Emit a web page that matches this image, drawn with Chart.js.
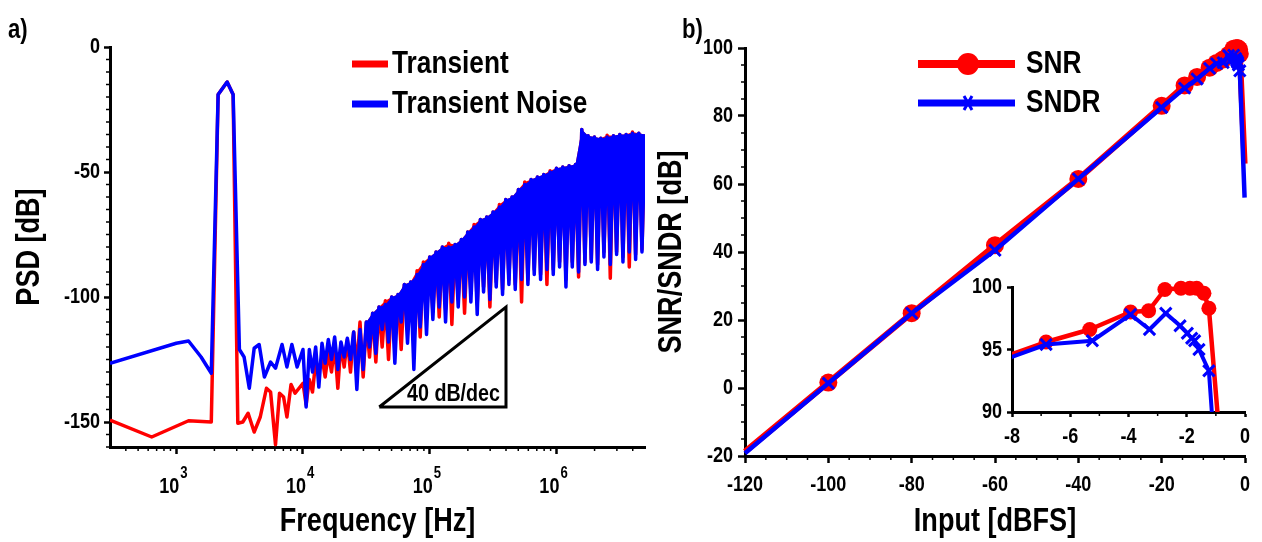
<!DOCTYPE html>
<html>
<head>
<meta charset="utf-8">
<title>PSD and SNR/SNDR</title>
<script src="https://cdn.jsdelivr.net/npm/chart.js@4.4.1/dist/chart.umd.min.js"></script>
<style>
  html, body { margin: 0; padding: 0; background: #fff; }
  body { position: relative; width: 1262px; height: 542px; overflow: hidden; }
  canvas { position: absolute; }
</style>
</head>
<body>
<canvas id="psd" width="660" height="542" style="left:0;top:0"></canvas>
<canvas id="snr" width="622" height="542" style="left:640px;top:0"></canvas>
<canvas id="inset" width="322" height="185" style="left:940px;top:270px"></canvas>
<script>
// ---------- a) PSD data ----------
const psdDecades = [1e3, 1e4, 1e5, 1e6];
const psdYTicks = [0, -50, -100, -150];

// below 10 kHz, read trace by trace
const tranFreqLo = [300, 640, 1250, 1890, 2140, 2520, 2810, 3060, 3350, 3690, 4120, 4600, 5150, 5550, 6070, 6530, 7030, 7470, 8050, 8660];
const tranPsdLo = [-149.2, -156, -149.5, -150, -19, -14, -19, -150.5, -150, -146.5, -154, -148, -136.5, -138, -159, -138.5, -140, -148, -135, -138.5];
const noiseFreqLo = [300, 1000, 1250, 1570, 1890, 2140, 2520, 2810, 3150, 3430, 3770, 4120, 4510, 4960, 5550, 6070, 6840, 7470, 8170, 8990];
const noisePsdLo = [-126.5, -118.5, -117.6, -124, -130.5, -19, -14, -19, -121, -124, -136.5, -120.5, -119, -132, -126, -128.5, -119, -128, -119, -128];

// above 10 kHz the spectrum is a dense comb: peaks (even) and dips (odd) read on a shared grid
const denseFreq = [
  10000, 10590, 11220, 11890, 12590, 13340, 14130, 14960, 15850, 16790,
  17780, 18840, 19950, 21130, 22390, 23710, 25120, 26610, 28180, 29850,
  31620, 33500, 35480, 37580, 39810, 42170, 44670, 47320, 50120, 53090,
  56230, 59570, 63100, 66830, 70790, 74990, 79430, 84140, 89130, 94410,
  100000, 105900, 112200, 118900, 125900, 133400, 141300, 149600, 158500, 167900,
  177800, 188400, 199500, 211300, 223900, 237100, 251200, 266100, 281800, 298500,
  316200, 335000, 354800, 375800, 398100, 421700, 446700, 473200, 501200, 530900,
  562300, 595700, 631000, 668300, 707900, 749900, 794300, 841400, 891300, 944100,
  1000000, 1059000, 1122000, 1189000, 1259000, 1334000, 1413000, 1496000, 1585000, 1679000,
  1778000, 1884000, 1995000, 2113000, 2239000, 2371000, 2512000, 2661000, 2818000, 2985000,
  3162000, 3350000, 3548000, 3758000, 3981000, 4217000, 4467000, 4732000, 5000000];
const noiseDense = [
  -121, -144, -121, -130, -120, -136, -118.5, -126.5, -117, -125,
  -116, -129, -118, -124, -116.5, -125, -114, -137, -113, -129,
  -110, -120, -106.5, -122.5, -104, -113, -103, -118, -100, -126.5,
  -99, -110, -95, -118.5, -94, -129, -91, -112, -87, -115,
  -84, -109, -82, -104, -80, -110, -80, -102, -79, -104,
  -77, -100, -74, -102, -72, -107, -69, -98, -68, -101,
  -66, -96, -64, -99, -61, -95, -60, -97, -57, -93,
  -55, -95, -53, -91, -52, -93, -51, -89, -50, -91,
  -48.5, -88, -48, -96, -47.5, -88, -47, -90, -33, -87,
  -35.5, -86, -36, -89, -36.5, -84, -36, -87, -35.5, -83,
  -35, -86, -35, -82, -34.5, -85, -34.5, -82, -35];
const tranDense = [
  -134.5, -143, -133, -138, -126, -130, -124, -132, -122.5, -130,
  -119, -136.5, -118.5, -128, -117, -130, -114, -128, -110, -132,
  -110, -124, -106.5, -126, -104, -120, -101.5, -125, -100, -118,
  -99, -121, -95, -112, -94, -119, -89.5, -116, -86, -108,
  -84, -106, -82, -108, -80, -105, -78.5, -111, -79, -101,
  -77, -106.5, -74, -98, -71, -103, -69, -96, -68, -104,
  -66, -94, -63, -97, -61, -93, -60, -95, -57, -102,
  -54, -93, -53, -89, -52, -91, -51, -95, -49.5, -89,
  -48.5, -86, -48, -93, -47.5, -86, -47, -92, -33, -86,
  -35.5, -85, -36, -87, -36.5, -82, -35.3, -92.5, -35.5, -82,
  -35, -84, -35, -88, -34, -83, -34.5, -81, -35];

// 40 dB/dec guide triangle
const slopeFreq = [4e4, 4e5, 4e5, 4e4];
const slopeDb = [-144, -104, -144, -144];

// ---------- b) SNR / SNDR data ----------
const snrInput = [-120, -100, -80, -60, -40, -20, -14.5, -11.5, -8.5, -6.83, -5.33, -3.93, -3.31, -2.75, -2.2, -1.89, -1.66, -1.41, -1.24, -0.1];
const snrDb = [-18.7, 1.6, 22, 42, 61.5, 83, 89, 91.5, 94.2, 95.6, 96.6, 98.0, 98.1, 99.8, 99.9, 99.9, 99.9, 99.5, 98.3, 66];
const sndrInput = [-120, -100, -80, -60, -40, -20, -14.5, -11.5, -8.5, -6.83, -5.24, -3.93, -3.28, -2.72, -2.23, -1.98, -1.83, -1.73, -1.58, -1.24, -0.1];
const sndrDb = [-19.2, 1.4, 22, 40.5, 61.5, 82.5, 88.2, 90.9, 94.0, 95.4, 95.7, 97.8, 96.6, 97.9, 96.9, 96.3, 95.9, 95.7, 95.0, 93.3, 56];

// ---------- common setup ----------
const FONT = "'Liberation Sans', Arial, sans-serif";
const NARROW = 0.82; // the original uses a condensed face
const RED = '#ff0000';
const BLUE = '#0000ff';
Chart.defaults.font.family = FONT;
Chart.defaults.font.weight = 'bold';
Chart.defaults.font.size = 22;
Chart.defaults.color = '#000';
Chart.defaults.animation = false;
Chart.defaults.plugins.legend.display = false;
Chart.defaults.plugins.tooltip.enabled = false;

const toXY = (xs, ys) => xs.map((x, i) => ({ x, y: ys[i] }));

function text(ctx, str, x, y, size, align = 'left', rot = 0, baseline = 'middle') {
  ctx.save();
  ctx.translate(x, y);
  if (rot) ctx.rotate(rot);
  ctx.scale(NARROW, 1);
  ctx.font = `bold ${size}px ${FONT}`;
  ctx.fillStyle = '#000';
  ctx.textAlign = align;
  ctx.textBaseline = baseline;
  ctx.fillText(str, 0, 0);
  ctx.restore();
}

// small unlabelled ticks outside the axes
function minorTicks(xVals, yVals, len) {
  return {
    id: 'minorTicks',
    afterDraw(chart) {
      const { ctx } = chart;
      const xs = chart.scales.x, ys = chart.scales.y;
      ctx.save();
      ctx.strokeStyle = '#000';
      ctx.lineWidth = 1.5;
      xVals.forEach(v => {
        const p = xs.getPixelForValue(v);
        ctx.beginPath(); ctx.moveTo(p, xs.top); ctx.lineTo(p, xs.top + len); ctx.stroke();
      });
      yVals.forEach(v => {
        const p = ys.getPixelForValue(v);
        ctx.beginPath(); ctx.moveTo(ys.right, p); ctx.lineTo(ys.right - len, p); ctx.stroke();
      });
      ctx.restore();
    }
  };
}

// tick labels of the scales, drawn in the condensed style
function tickLabels(xOff, yOff, size) {
  return {
    id: 'tickLabels',
    afterDraw(chart) {
      const { ctx } = chart;
      const xs = chart.scales.x, ys = chart.scales.y;
      if (xOff !== null) xs.ticks.forEach(t =>
        text(ctx, String(t.value), xs.getPixelForValue(t.value), xs.top + xOff, size, 'center'));
      if (yOff !== null) ys.ticks.forEach(t =>
        text(ctx, String(t.value), ys.right - yOff, ys.getPixelForValue(t.value), size, 'right'));
    }
  };
}

function axis(extra, tickLen = 7) {
  return Object.assign({
    border: { display: true, width: 3, color: '#000' },
    grid: { drawOnChartArea: false, drawTicks: true, tickLength: tickLen, tickWidth: 2.5, tickColor: '#000' },
  }, extra);
}

function range(a, b, step) {
  const out = [];
  for (let v = a; v <= b + 1e-9; v += step) out.push(+v.toFixed(6));
  return out;
}

// ---------- a) PSD chart ----------
const psdMinorX = [100, 1e3, 1e4, 1e5, 1e6]
  .flatMap(d => [2, 3, 4, 5, 6, 7, 8, 9].map(m => m * d))
  .filter(v => v > 300 && v < 5e6);
const psdMinorY = range(-160, 0, 5).filter(v => v % 50 !== 0);

// the comb above ~30 kHz is solid: fill between its peaks and its dips
const bandStart = 20;
const peaksOf = arr => arr.filter((v, i) => i >= bandStart && i % 2 === 0);
const bandOf = arr => arr.slice(bandStart);

const psdDecor = {
  id: 'psdDecor',
  afterDraw(chart) {
    const { ctx } = chart;
    const xs = chart.scales.x, ys = chart.scales.y;
    const area = chart.chartArea;
    text(ctx, 'a)', 8, 31, 27);
    text(ctx, 'PSD [dB]', 30, (area.top + area.bottom) / 2, 33, 'center', -Math.PI / 2);
    text(ctx, 'Frequency [Hz]', (area.left + area.right) / 2, 522, 33, 'center');
    psdYTicks.forEach(v => text(ctx, String(v), ys.right - 10, ys.getPixelForValue(v), 22, 'right'));
    // decade labels 10^n
    psdDecades.forEach(v => {
      const p = xs.getPixelForValue(v);
      text(ctx, '10', p + 3, 493, 22, 'right', 0, 'alphabetic');
      text(ctx, String(Math.round(Math.log10(v))), p + 4, 478, 16, 'left', 0, 'alphabetic');
    });
    // legend
    const rows = [[chart.data.datasets[0], 64], [chart.data.datasets[3], 104]];
    rows.forEach(([ds, y]) => {
      ctx.save();
      ctx.strokeStyle = ds.borderColor;
      ctx.lineWidth = 7;
      ctx.beginPath(); ctx.moveTo(352, y); ctx.lineTo(388, y); ctx.stroke();
      ctx.restore();
      text(ctx, ds.label, 392, y, 32);
    });
    // slope annotation
    text(ctx, '40 dB/dec', xs.getPixelForValue(slopeFreq[1]) - 6, ys.getPixelForValue(-139), 24, 'right');
  }
};

new Chart(document.getElementById('psd'), {
  type: 'line',
  data: {
    datasets: [
      { label: 'Transient', data: toXY(tranFreqLo.concat(denseFreq), tranPsdLo.concat(tranDense)),
        borderColor: RED, borderWidth: 3.5, pointRadius: 0, order: 2 },
      { label: 'Transient peaks', data: toXY(peaksOf(denseFreq), peaksOf(tranDense)),
        borderColor: RED, borderWidth: 0, pointRadius: 0, order: 2 },
      { label: 'Transient band', data: toXY(bandOf(denseFreq), bandOf(tranDense)),
        borderColor: RED, backgroundColor: RED, borderWidth: 0, pointRadius: 0, order: 2, fill: 1 },
      { label: 'Transient Noise', data: toXY(noiseFreqLo.concat(denseFreq), noisePsdLo.concat(noiseDense)),
        borderColor: BLUE, borderWidth: 3.5, pointRadius: 0, order: 1 },
      { label: 'Noise peaks', data: toXY(peaksOf(denseFreq), peaksOf(noiseDense)),
        borderColor: BLUE, borderWidth: 0, pointRadius: 0, order: 1 },
      { label: 'Noise band', data: toXY(bandOf(denseFreq), bandOf(noiseDense)),
        borderColor: BLUE, backgroundColor: BLUE, borderWidth: 0, pointRadius: 0, order: 1, fill: 4 },
      { label: 'slope', data: toXY(slopeFreq, slopeDb), borderColor: '#000', borderWidth: 3,
        pointRadius: 0, order: 0, borderJoinStyle: 'miter' }
    ]
  },
  options: {
    responsive: false,
    layout: { padding: { top: 47, right: 15, left: 0, bottom: 0 } },
    elements: { line: { tension: 0, borderJoinStyle: 'round', fill: false } },
    scales: {
      x: axis({
        type: 'logarithmic', min: 300, max: 5e6,
        afterBuildTicks: s => { s.ticks = psdDecades.map(v => ({ value: v })); },
        afterFit: s => { s.height = 95; },
        ticks: { display: false }
      }),
      y: axis({
        type: 'linear', min: -160, max: 0,
        afterBuildTicks: s => { s.ticks = psdYTicks.map(v => ({ value: v })); },
        afterFit: s => { s.width = 110; },
        ticks: { display: false }
      }, 6)
    }
  },
  plugins: [minorTicks(psdMinorX, psdMinorY, 4), psdDecor]
});

// ---------- b) SNR / SNDR chart ----------
const snrDecor = {
  id: 'snrDecor',
  afterDraw(chart) {
    const { ctx } = chart;
    const area = chart.chartArea;
    text(ctx, 'b)', 42, 31, 27);
    text(ctx, 'SNR/SNDR [dB]', 32, (area.top + area.bottom) / 2, 33, 'center', -Math.PI / 2);
    text(ctx, 'Input [dBFS]', (area.left + area.right) / 2, 522, 33, 'center');
    const [snr, sndr] = chart.data.datasets;
    ctx.save();
    ctx.lineWidth = 8;
    ctx.strokeStyle = snr.borderColor;
    ctx.beginPath(); ctx.moveTo(278, 64); ctx.lineTo(375, 64); ctx.stroke();
    ctx.fillStyle = snr.borderColor;
    ctx.beginPath(); ctx.arc(328, 64, 11, 0, Math.PI * 2); ctx.fill();
    ctx.lineWidth = 7;
    ctx.strokeStyle = sndr.borderColor;
    ctx.beginPath(); ctx.moveTo(278, 103); ctx.lineTo(375, 103); ctx.stroke();
    ctx.lineWidth = 3;
    ctx.beginPath();
    ctx.moveTo(324, 96); ctx.lineTo(332, 110);
    ctx.moveTo(332, 96); ctx.lineTo(324, 110);
    ctx.stroke();
    ctx.restore();
    text(ctx, snr.label, 386, 64, 32);
    text(ctx, sndr.label, 386, 103, 32);
  }
};

new Chart(document.getElementById('snr'), {
  type: 'line',
  data: {
    datasets: [
      { label: 'SNR', data: toXY(snrInput, snrDb), borderColor: RED, backgroundColor: RED,
        borderWidth: 6, pointStyle: 'circle', pointBorderWidth: 0,
        pointRadius: c => (c.dataIndex === 0 || c.dataIndex === snrDb.length - 1) ? 0 : 9,
        order: 2, clip: false },
      { label: 'SNDR', data: toXY(sndrInput, sndrDb), borderColor: BLUE, backgroundColor: BLUE,
        borderWidth: 4.5, pointStyle: 'crossRot', pointBorderWidth: 3,
        pointRadius: c => (c.dataIndex === 0 || c.dataIndex === sndrDb.length - 1) ? 0 : 8,
        order: 1, clip: false }
    ]
  },
  options: {
    responsive: false,
    layout: { padding: { top: 48, right: 17, left: 0, bottom: 0 } },
    elements: { line: { tension: 0, borderJoinStyle: 'round', fill: false } },
    scales: {
      x: axis({
        type: 'linear', min: -120, max: 0,
        afterFit: s => { s.height = 86; },
        ticks: { stepSize: 20, display: false }
      }),
      y: axis({
        type: 'linear', min: -20, max: 100,
        afterFit: s => { s.width = 105; },
        ticks: { stepSize: 20, display: false }
      })
    }
  },
  plugins: [
    minorTicks(range(-115, -5, 5).filter(v => v % 20 !== 0), range(-15, 95, 5).filter(v => v % 20 !== 0), 4),
    tickLabels(29, 12, 22),
    snrDecor
  ]
});

// ---------- b) inset ----------
const insetClip = { left: 0, top: false, right: false, bottom: 0 };
new Chart(document.getElementById('inset'), {
  type: 'line',
  data: {
    datasets: [
      { label: 'SNR', data: toXY(snrInput, snrDb), borderColor: RED, backgroundColor: RED,
        borderWidth: 4.5, pointStyle: 'circle', pointBorderWidth: 0, pointRadius: 7.5,
        order: 2, clip: insetClip },
      { label: 'SNDR', data: toXY(sndrInput, sndrDb), borderColor: BLUE, backgroundColor: BLUE,
        borderWidth: 4, pointStyle: 'crossRot', pointBorderWidth: 3, pointRadius: 8,
        order: 1, clip: insetClip }
    ]
  },
  options: {
    responsive: false,
    layout: { padding: { top: 17, right: 17, left: 0, bottom: 0 } },
    elements: { line: { tension: 0, borderJoinStyle: 'round', fill: false } },
    scales: {
      x: axis({
        type: 'linear', min: -8, max: 0,
        afterFit: s => { s.height = 43; },
        ticks: { stepSize: 2, display: false }
      }, 5),
      y: axis({
        type: 'linear', min: 90, max: 100,
        afterFit: s => { s.width = 72; },
        ticks: { stepSize: 5, display: false }
      }, 5)
    }
  },
  plugins: [minorTicks([-7, -5, -3, -1], [], 4), tickLabels(25, 10, 22)]
});
</script>
</body>
</html>
